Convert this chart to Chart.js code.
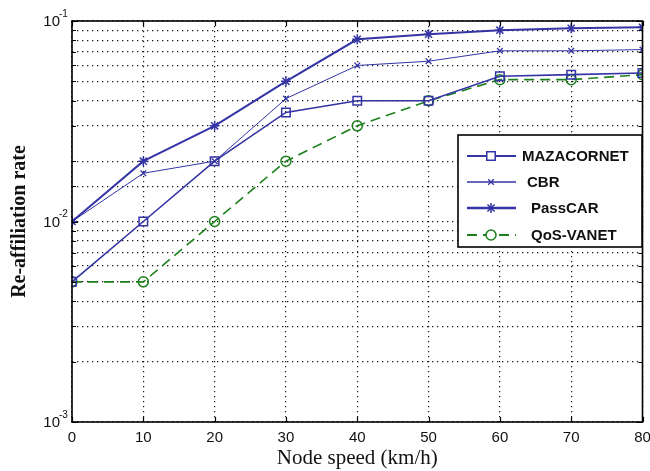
<!DOCTYPE html>
<html>
<head>
<meta charset="utf-8">
<script src="https://cdn.jsdelivr.net/npm/chart.js@4.4.1/dist/chart.umd.min.js"></script>
<style>
  html, body { margin: 0; padding: 0; background: #fff; }
  #wrap { width: 650px; height: 471px; }
</style>
</head>
<body>
<div id="wrap"><canvas id="c" width="650" height="471"></canvas></div>
<script>
// ---- data ----
const speeds = [0, 10, 20, 30, 40, 50, 60, 70, 80];
const mazacornet = [0.005, 0.01, 0.02, 0.035, 0.04, 0.04, 0.053, 0.054, 0.055];
const cbr = [0.01, 0.0174, 0.02, 0.041, 0.06, 0.063, 0.071, 0.071, 0.072];
const passcar = [0.01, 0.02, 0.03, 0.05, 0.081, 0.086, 0.09, 0.092, 0.093];
const qosVanet = [0.005, 0.005, 0.01, 0.02, 0.03, 0.04, 0.051, 0.051, 0.054];
const seriesNames = ['MAZACORNET', 'CBR', 'PassCAR', 'QoS-VANET'];
const xTicks = [0, 10, 20, 30, 40, 50, 60, 70, 80];
const yDecades = [0.001, 0.01, 0.1];
const yDecadeExponents = ['-3', '-2', '-1'];

const BLUE = 'rgb(52,52,165)';
const GREEN = 'rgb(28,128,28)';

function pts(vals) { return speeds.map((s, i) => ({ x: s, y: vals[i] })); }
function isDecade(v) { return yDecades.some(d => Math.abs(d - v) < d * 1e-6); }

const frameAndTicks = {
  id: 'frameAndTicks',
  afterDatasetsDraw(chart) {
    const { ctx, chartArea: a, scales } = chart;
    ctx.save();
    ctx.strokeStyle = '#000';
    ctx.lineWidth = 1.2;
    xTicks.forEach(v => {
      const px = Math.round(scales.x.getPixelForValue(v)) + 0.5;
      ctx.beginPath();
      ctx.moveTo(px, a.top); ctx.lineTo(px, a.top + 5);
      ctx.moveTo(px, a.bottom); ctx.lineTo(px, a.bottom - 5);
      ctx.stroke();
    });
    scales.y.ticks.forEach(t => {
      const py = Math.round(scales.y.getPixelForValue(t.value)) + 0.5;
      const l = isDecade(t.value) ? 6 : 4;
      ctx.beginPath();
      ctx.moveTo(a.left, py); ctx.lineTo(a.left + l, py);
      ctx.moveTo(a.right, py); ctx.lineTo(a.right - l, py);
      ctx.stroke();
    });
    ctx.lineWidth = 1.6;
    ctx.strokeRect(a.left, a.top, a.right - a.left, a.bottom - a.top);
    // decade labels with superscript exponents
    ctx.fillStyle = '#111';
    ctx.textBaseline = 'middle';
    yDecades.forEach((d, i) => {
      const py = scales.y.getPixelForValue(d);
      ctx.textAlign = 'right';
      ctx.font = '15px "Liberation Sans", Arial, sans-serif';
      ctx.fillText('10', a.left - 12, py + 1);
      ctx.textAlign = 'left';
      ctx.font = '10px "Liberation Sans", Arial, sans-serif';
      ctx.fillText(yDecadeExponents[i], a.left - 13, py - 7);
    });
    ctx.restore();
  }
};

const boxLegend = {
  id: 'boxLegend',
  afterDraw(chart) {
    const { ctx } = chart;
    const bx = 458, by = 135, bw = 184, bh = 112;
    ctx.save();
    ctx.fillStyle = '#fff';
    ctx.fillRect(bx, by, bw, bh);
    ctx.strokeStyle = '#000';
    ctx.lineWidth = 1.6;
    ctx.strokeRect(bx, by, bw, bh);
    const rowsY = [156, 182, 208, 235];
    const textX = [522, 527, 531, 531];
    chart.data.datasets.forEach((ds, i) => {
      const y = rowsY[i];
      ctx.save();
      ctx.strokeStyle = ds.borderColor;
      ctx.lineWidth = ds.borderWidth + 0.4;
      ctx.setLineDash(ds.borderDash || []);
      ctx.beginPath();
      ctx.moveTo(467, y); ctx.lineTo(516, y);
      ctx.stroke();
      ctx.restore();
      ctx.save();
      ctx.strokeStyle = ds.pointBorderColor;
      ctx.fillStyle = '#fff';
      ctx.lineWidth = ds.pointBorderWidth;
      ctx.setLineDash([]);
      Chart.helpers.drawPoint(ctx, {
        pointStyle: ds.pointStyle,
        radius: ds.pointRadius,
        borderWidth: ds.pointBorderWidth
      }, 491, y);
      ctx.restore();
      ctx.fillStyle = '#111';
      ctx.font = 'bold 15px "Liberation Sans", Arial, sans-serif';
      ctx.textBaseline = 'middle';
      ctx.textAlign = 'left';
      ctx.fillText(ds.label, textX[i], y + 1);
    });
    ctx.restore();
  }
};

new Chart(document.getElementById('c'), {
  type: 'line',
  data: {
    datasets: [
      { label: seriesNames[0], data: pts(mazacornet), borderColor: BLUE, borderWidth: 1.6,
        pointStyle: 'rect', pointRadius: 6, pointBorderWidth: 1.5, pointBorderColor: BLUE,
        pointBackgroundColor: 'rgba(0,0,0,0)' },
      { label: seriesNames[1], data: pts(cbr), borderColor: BLUE, borderWidth: 1.0,
        pointStyle: 'crossRot', pointRadius: 4, pointBorderWidth: 1.3, pointBorderColor: BLUE,
        pointBackgroundColor: 'rgba(0,0,0,0)' },
      { label: seriesNames[2], data: pts(passcar), borderColor: BLUE, borderWidth: 2.0,
        pointStyle: 'star', pointRadius: 5, pointBorderWidth: 1.5, pointBorderColor: BLUE,
        pointBackgroundColor: 'rgba(0,0,0,0)' },
      { label: seriesNames[3], data: pts(qosVanet), borderColor: GREEN, borderWidth: 1.6,
        borderDash: [10, 6],
        pointStyle: 'circle', pointRadius: 5, pointBorderWidth: 1.5, pointBorderColor: GREEN,
        pointBackgroundColor: 'rgba(0,0,0,0)' }
    ]
  },
  options: {
    responsive: false,
    animation: false,
    devicePixelRatio: 1,
    layout: { padding: { left: 0, right: 7, top: 21, bottom: 0 } },
    plugins: { legend: { display: false }, tooltip: { enabled: false } },
    elements: { line: { tension: 0, fill: false } },
    scales: {
      x: {
        type: 'linear', min: 0, max: 80,
        afterBuildTicks(s) { s.ticks = xTicks.map(v => ({ value: v })); },
        afterFit(s) { s.height = 49; s.paddingLeft = 0; s.paddingRight = 0; },
        grid: { color: 'rgba(0,0,0,0.9)', lineWidth: 1.2, drawTicks: false },
        border: { display: false, dash: [1.3, 3.7] },
        ticks: { color: '#111', padding: 7, maxRotation: 0, autoSkip: false,
          font: { family: '"Liberation Sans", Arial, sans-serif', size: 15 } },
        title: { display: true, text: 'Node speed (km/h)', color: '#111',
          padding: { top: 0, bottom: 0 },
          font: { family: '"Liberation Serif", "Times New Roman", serif', size: 21 } }
      },
      y: {
        type: 'logarithmic', min: 0.001, max: 0.1,
        afterFit(s) { s.width = 72; s.paddingTop = 0; s.paddingBottom = 0; },
        grid: { color: 'rgba(0,0,0,0.9)', lineWidth: 1.2, drawTicks: false },
        border: { display: false, dash: [1.3, 3.7] },
        ticks: { color: '#111', padding: 5, autoSkip: false,
          callback() { return ''; },
          font: { family: '"Liberation Sans", Arial, sans-serif', size: 15 } },
        title: { display: true, text: 'Re-affiliation rate', color: '#111',
          padding: { top: 8, bottom: 0 },
          font: { family: '"Liberation Serif", "Times New Roman", serif', size: 20, weight: 'bold' } }
      }
    }
  },
  plugins: [frameAndTicks, boxLegend]
});
</script>
</body>
</html>
